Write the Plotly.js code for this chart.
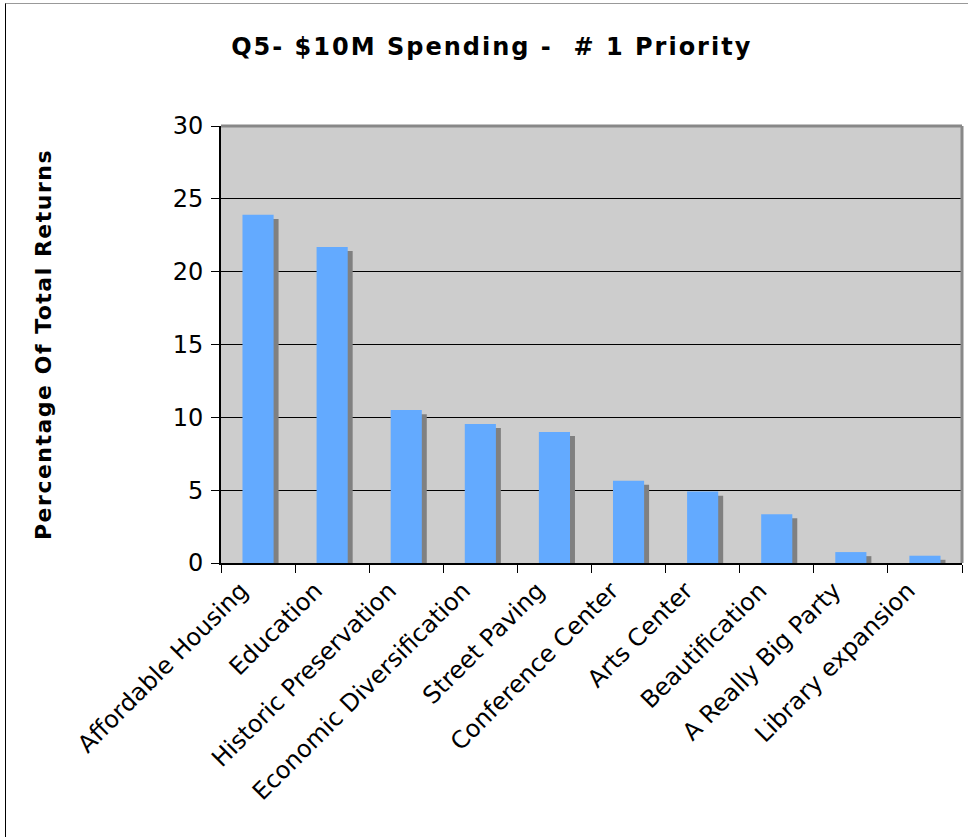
<!DOCTYPE html>
<html>
<head>
<meta charset="utf-8">
<script src="https://cdn.plot.ly/plotly-3.0.1.min.js"></script>
<style>
  html, body { margin: 0; padding: 0; background: #fff; }
  #wrap { position: relative; width: 968px; height: 837px; overflow: hidden; }
  #chart { position: absolute; left: 0; top: 0; width: 968px; height: 837px; }
  #frame { position: absolute; left: 5px; top: 3px; width: 980px; height: 860px;
           border-left: 1px solid #000; border-top: 1px solid #999; pointer-events: none; }
  .gtitle { letter-spacing: 2px; }
  .ytitle { letter-spacing: 1.5px; }
</style>
</head>
<body>
<div id="wrap">
  <div id="chart"></div>
  <div id="frame"></div>
</div>
<script>
const categories = [
  "Affordable Housing", "Education", "Historic Preservation",
  "Economic Diversification", "Street Paving", "Conference Center",
  "Arts Center", "Beautification", "A Really Big Party", "Library expansion"
];
const percentages = [23.9, 21.7, 10.5, 9.55, 9.0, 5.65, 4.9, 3.35, 0.75, 0.5];
const yTickValues = [0, 5, 10, 15, 20, 25, 30];

const barWidth = 0.42;
const shadowDrop = 0.28;
const shadowShift = 0.067;

const shadow = {
  type: "bar",
  x: categories,
  y: percentages.map(v => Math.max(v - shadowDrop, 0)),
  width: barWidth,
  offset: -barWidth / 2 + shadowShift,
  marker: { color: "#808080", line: { width: 0 } },
  hoverinfo: "skip",
  showlegend: false
};
const bars = {
  type: "bar",
  x: categories,
  y: percentages,
  width: barWidth,
  offset: -barWidth / 2,
  marker: { color: "#63aaff", line: { width: 0 } },
  showlegend: false
};

const layout = {
  width: 968,
  height: 837,
  margin: { l: 221, r: 6, t: 126, b: 274 },
  paper_bgcolor: "#ffffff",
  plot_bgcolor: "#cdcdcd",
  barmode: "overlay",
  showlegend: false,
  title: {
    text: "<b>Q5- $10M Spending - \u00a0# 1 Priority</b>",
    font: { family: "DejaVu Sans", size: 24, color: "#000" },
    x: 0.508, xanchor: "center", y: 0.944, yanchor: "middle"
  },
  xaxis: {
    type: "category",
    tickangle: -45,
    tickfont: { family: "DejaVu Sans", size: 24, color: "#000" },
    ticklabelshift: -17,
    ticklabelstandoff: 2,
    showline: true, linecolor: "#000", linewidth: 2,
    ticks: "outside", tickson: "boundaries", ticklen: 8, tickcolor: "#000", tickwidth: 1,
    showgrid: false, zeroline: false,
    range: [-0.5, categories.length - 0.5]
  },
  yaxis: {
    range: [0, 30],
    tickvals: yTickValues,
    tickfont: { family: "DejaVu Sans", size: 24, color: "#000" },
    ticklabelstandoff: 3,
    showline: true, linecolor: "#000", linewidth: 2,
    ticks: "outside", ticklen: 8, tickcolor: "#000", tickwidth: 1,
    showgrid: true, gridcolor: "#000", gridwidth: 1,
    zeroline: false,
    title: {
      text: "<b>Percentage Of Total Returns</b>",
      font: { family: "DejaVu Sans", size: 22, color: "#000" },
      standoff: 115
    }
  },
  shapes: [
    { type: "line", xref: "paper", yref: "paper", x0: 0, x1: 1, y0: 1, y1: 1,
      line: { color: "#888", width: 3 } },
    { type: "line", xref: "paper", yref: "paper", x0: 1, x1: 1, y0: 0, y1: 1,
      line: { color: "#888", width: 3 } }
  ]
};

Plotly.newPlot("chart", [shadow, bars], layout, { displayModeBar: false, staticPlot: true });
</script>
</body>
</html>
